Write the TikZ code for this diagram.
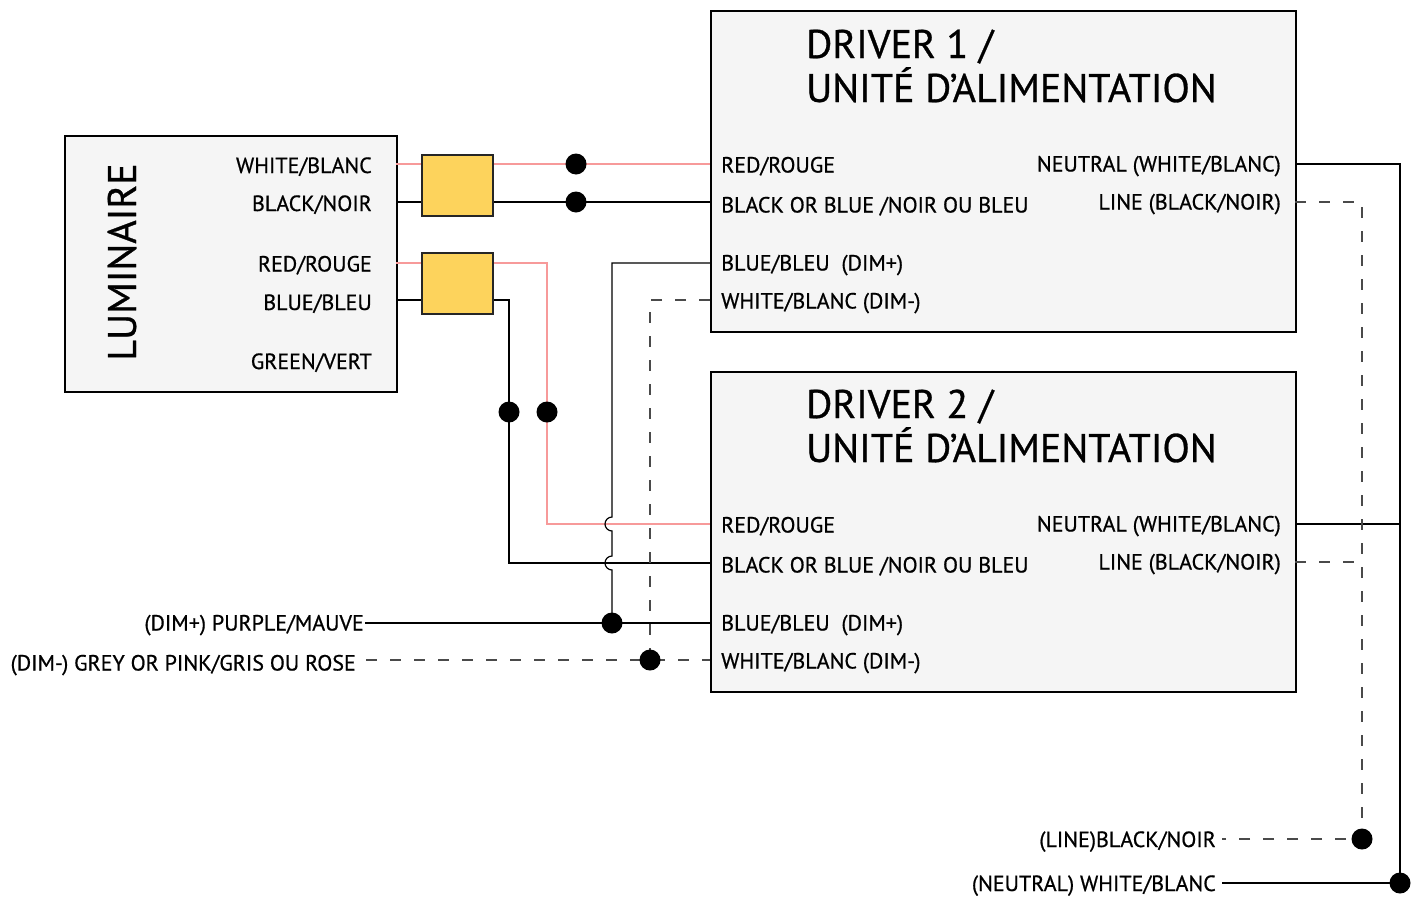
\documentclass[tikz,border=0pt]{standalone}
\usepackage{fontspec}
\setmainfont{PT Sans}[FakeBold=0.7]
\definecolor{boxfill}{HTML}{F5F5F5}
\definecolor{nutfill}{HTML}{FDD35C}
\definecolor{pinkw}{HTML}{F79A9A}
\definecolor{dashc}{HTML}{4A4A4A}
\begin{document}
\begin{tikzpicture}[x=1pt,y=-1pt,
  box/.style={draw=black, line width=2.4pt, fill=boxfill, inner sep=0pt, anchor=north west},
  wnut/.style={draw=black!85, line width=2pt, fill=nutfill, inner sep=0pt, anchor=north west, minimum width=71pt, minimum height=61pt},
  lbl/.style={font=\fontsize{22}{26}\selectfont, inner sep=0pt},
  lblr/.style={lbl, anchor=base east},
  lbll/.style={lbl, anchor=base west},
  ttl/.style={font=\fontsize{40}{46}\selectfont, inner sep=0pt, anchor=base west},
  blk/.style={line width=2.2pt, black},
  pnk/.style={line width=2pt, pinkw},
  thinw/.style={line width=1.2pt, black},
  dsh/.style={line width=1.2pt, dashc, dash pattern=on 11pt off 13pt},
  jdot/.style={circle, fill=black, inner sep=0pt, minimum size=21pt}
]
\useasboundingbox (0,0) rectangle (1412,897);

% boxes
\node[box, minimum width=332pt, minimum height=256pt] (lum) at (64,135) {};
\node[box, minimum width=585pt, minimum height=321pt] (d1) at (710,10) {};
\node[box, minimum width=585pt, minimum height=320pt] (d2) at (710,371) {};
\node[rotate=90, font=\fontsize{40}{46}\selectfont, inner sep=0pt] (lumt) at (122,262) {LUMINAIRE};

% luminaire labels
\node[lblr] (lw) at (372,173) {WHITE/BLANC};
\node[lblr] (lk) at (372,211) {BLACK/NOIR};
\node[lblr] (lr) at (372,271.5) {RED/ROUGE};
\node[lblr] (lb) at (372,310) {BLUE/BLEU};
\node[lblr] (lg) at (372,369) {GREEN/VERT};

% driver titles and labels
\foreach \n/\dy in {1/0,2/360}{
  \node[ttl] (t\n a) at (806,58+\dy) {DRIVER \n\ /};
  \node[ttl] (t\n b) at (806,102+\dy) {UNITÉ D’ALIMENTATION};
  \node[lbll] (r\n) at (721,172.5+\dy) {RED/ROUGE};
  \node[lbll] (k\n) at (721,212.5+\dy) {BLACK OR BLUE /NOIR OU BLEU};
  \node[lbll] (p\n) at (721,270.5+\dy) {BLUE/BLEU \ (DIM+)};
  \node[lbll] (m\n) at (721,308.5+\dy) {WHITE/BLANC (DIM-)};
  \node[lblr] (n\n) at (1281,171.5+\dy) {NEUTRAL (WHITE/BLANC)};
  \node[lblr] (l\n) at (1281,209.5+\dy) {LINE (BLACK/NOIR)};
}

% external labels
\node[lblr] (purple) at (364,630.5) {(DIM+) PURPLE/MAUVE};
\node[lblr] (grey) at (356,670.5) {(DIM-) GREY OR PINK/GRIS OU ROSE};
\node[lblr] (linel) at (1216,847) {(LINE)BLACK/NOIR};
\node[lblr] (neul) at (1216,891) {(NEUTRAL) WHITE/BLANC};

% wire coordinates
\coordinate (lumW) at (396,164);
\coordinate (lumK) at (396,202);
\coordinate (lumR) at (396,263);
\coordinate (lumB) at (396,300);
\coordinate (d1W) at (710,164);
\coordinate (d1K) at (710,202);
\coordinate (d1P) at (710,263);
\coordinate (d1M) at (710,300);
\coordinate (d2R) at (710,524);
\coordinate (d2K) at (710,563);
\coordinate (d2P) at (710,623);
\coordinate (d2M) at (710,660);
\coordinate (d1N) at (1295,164);
\coordinate (d1L) at (1295,202);
\coordinate (d2N) at (1295,524);
\coordinate (d2L) at (1295,562);
\coordinate (purE) at (365,623);
\coordinate (greE) at (366,660);
\coordinate (linE) at (1222,839);
\coordinate (neuE) at (1222,883);

% wires luminaire -> drivers
\draw[pnk] (lumW) -- (d1W);
\draw[blk] (lumK) -- (d1K);
\draw[pnk] (lumR) -- (547,263) -- (547,524) -- (d2R);
\draw[blk] (lumB) -- (509,300) -- (509,563) -- (d2K);

% dim wires
\draw[thinw] (d1P) -- (612,263) -- (612,517) arc[start angle=270, end angle=90, radius=7]
  -- (612,556) arc[start angle=270, end angle=90, radius=7] -- (612,623);
\draw[thinw] (purE) -- (d2P);
\draw[dsh] (d1M) -- (650,300) -- (650,660);
\draw[dsh] (greE) -- (d2M);

% neutral and line
\draw[thinw] (d1N) -- (1400,164) -- (1400,883) -- (neuE);
\draw[thinw] (d2N) -- (1400,524);
\draw[dsh] (d1L) -- (1362,202) -- (1362,839) -- (linE);
\draw[dsh] (d2L) -- (1362,562);

% wire nuts
\node[wnut] (nut1) at (421,154) {};
\node[wnut] (nut2) at (421,252) {};

% junction dots
\node[jdot] (j1) at (576,164) {};
\node[jdot] (j2) at (576,202) {};
\node[jdot] (j3) at (509,412) {};
\node[jdot] (j4) at (547,412) {};
\node[jdot] (j5) at (612,623) {};
\node[jdot] (j6) at (650,660) {};
\node[jdot] (j7) at (1362,839) {};
\node[jdot] (j8) at (1400,883) {};
\end{tikzpicture}
\end{document}
